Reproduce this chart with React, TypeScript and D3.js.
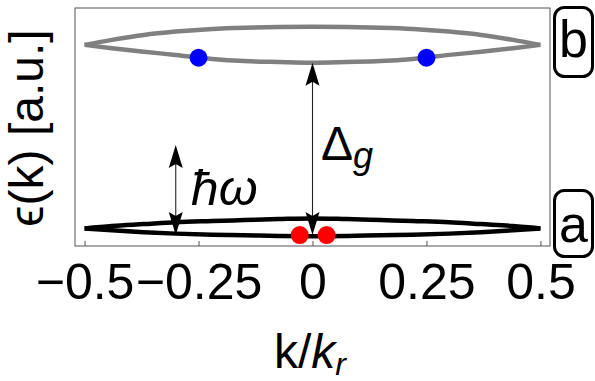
import React, { useEffect, useRef } from 'react';
import * as d3 from 'd3';

// band samples (k in units of k_r, energy in a.u.)
const kGrid = [-0.5, -0.44, -0.37, -0.3, -0.22, -0.15, -0.075, 0, 0.075, 0.15, 0.22, 0.3, 0.37, 0.44, 0.5];
const upperTop = [0.845, 0.866, 0.887, 0.901, 0.912, 0.917, 0.92, 0.921, 0.92, 0.917, 0.912, 0.901, 0.887, 0.866, 0.845];
const upperBottom = [0.845, 0.831, 0.816, 0.803, 0.786, 0.777, 0.773, 0.77, 0.773, 0.777, 0.786, 0.803, 0.816, 0.831, 0.845];
const lowerTop = [0.074, 0.084, 0.092, 0.1, 0.105, 0.109, 0.113, 0.116, 0.113, 0.109, 0.105, 0.1, 0.092, 0.084, 0.074];
const lowerBottom = [0.074, 0.066, 0.058, 0.052, 0.047, 0.045, 0.042, 0.041, 0.042, 0.045, 0.047, 0.052, 0.058, 0.066, 0.074];

const blueK = [-0.25, 0.25];
const blueE = [0.791, 0.791];
const redK = [-0.028, 0.031];
const redE = [0.046, 0.046];

// arrows: [k, from, to]
const gapArrow = [0, 0.046, 0.77];
const photonArrow = [-0.3, 0.046, 0.424];

const xTicks = [-0.5, -0.25, 0, 0.25, 0.5];
const xTickLabels = ['\u22120.5', '\u22120.25', '0', '0.25', '0.5'];

const W = 595, H = 381;
const FONT = '"Liberation Sans", Arial, Helvetica, sans-serif';

const BandChart = () => {
  const svgRef = useRef(null);

  useEffect(() => {
    const svg = d3.select(svgRef.current);
    svg.selectAll('*').remove();

    const x = d3.scaleLinear().domain([-0.521, 0.521]).range([75, 550]);
    const y = d3.scaleLinear().domain([0, 1]).range([246, 8]);

    const line = d3.line<number>()
      .x((d, i) => x(kGrid[i]))
      .y(d => y(d))
      .curve(d3.curveMonotoneX);

    // frame
    svg.append('rect')
      .attr('x', 75).attr('y', 8)
      .attr('width', 475).attr('height', 238)
      .attr('fill', 'none').attr('stroke', '#555').attr('stroke-width', 1);

    // bottom axis
    const ax = svg.append('g')
      .attr('transform', `translate(0,246)`)
      .call(d3.axisBottom(x).tickValues(xTicks).tickSizeInner(-5).tickSizeOuter(0)
        .tickFormat((d, i) => xTickLabels[i]));
    ax.select('.domain').remove();
    ax.selectAll('line').attr('stroke', '#555');
    ax.selectAll('text')
      .attr('y', 53).attr('dy', null)
      .attr('fill', '#000')
      .style('font-family', FONT).style('font-size', '50px');

    // bands
    [[upperTop, '#808080'], [upperBottom, '#808080'], [lowerTop, '#000'], [lowerBottom, '#000']]
      .forEach(([vals, col]) => {
        svg.append('path')
          .attr('d', line(vals as number[]))
          .attr('fill', 'none')
          .attr('stroke', col as string)
          .attr('stroke-width', 4.5)
          .attr('stroke-linejoin', 'miter');
      });

    // arrows
    const head = (px, py, dir) => {
      // dir -1 points up, +1 points down
      const L = 23, hw = 7, notch = 4;
      return `M${px},${py} L${px + hw},${py - dir * L} L${px},${py - dir * (L - notch)} L${px - hw},${py - dir * L} Z`;
    };
    [gapArrow, photonArrow].forEach(([k, e0, e1]) => {
      const px = x(k), yb = y(e0), yt = y(e1);
      svg.append('line')
        .attr('x1', px).attr('x2', px)
        .attr('y1', yb - 15).attr('y2', yt + 15)
        .attr('stroke', '#222').attr('stroke-width', 1.1);
      svg.append('path').attr('d', head(px, yt, -1)).attr('fill', '#000');
      svg.append('path').attr('d', head(px, yb, 1)).attr('fill', '#000');
    });

    // dots
    svg.selectAll('.blue').data(blueK).enter().append('circle')
      .attr('cx', d => x(d)).attr('cy', (d, i) => y(blueE[i]))
      .attr('r', 9).attr('fill', '#0000ff');
    svg.selectAll('.red').data(redK).enter().append('circle')
      .attr('cx', d => x(d)).attr('cy', (d, i) => y(redE[i]))
      .attr('r', 9).attr('fill', '#ff0000');

    // annotations
    svg.append('text')
      .attr('x', 191).attr('y', 205)
      .style('font-family', FONT).style('font-size', '50px').style('font-style', 'italic')
      .text('\u0127\u03c9');

    const dg = svg.append('text')
      .attr('x', 321).attr('y', 160)
      .style('font-family', FONT).style('font-size', '48px');
    dg.append('tspan').text('\u0394');
    dg.append('tspan').attr('dy', 8).style('font-size', '36px').style('font-style', 'italic').text('g');

    // x label
    const xl = svg.append('text')
      .attr('x', 274).attr('y', 368)
      .style('font-family', FONT).style('font-size', '48px');
    xl.append('tspan').text('k/');
    xl.append('tspan').style('font-style', 'italic').text('k');
    xl.append('tspan').attr('dy', 7).style('font-size', '32px').style('font-style', 'italic').text('r');

    // y label
    svg.append('text')
      .attr('transform', 'translate(43,128) rotate(-90)')
      .attr('text-anchor', 'middle')
      .style('font-family', FONT).style('font-size', '48px')
      .text('\u03f5(k) [a.u.]');

    // band tags
    const tags = [['b', 7.5, 69, 57], ['a', 190.5, 66, 242]];
    tags.forEach(([t, ty, th, base]) => {
      svg.append('rect')
        .attr('x', 554.5).attr('y', ty as number)
        .attr('width', 38).attr('height', th as number)
        .attr('rx', 10).attr('ry', 10)
        .attr('fill', 'none').attr('stroke', '#000').attr('stroke-width', 3);
      svg.append('text')
        .attr('x', 573.5).attr('y', base as number)
        .attr('text-anchor', 'middle')
        .style('font-family', FONT).style('font-size', '52px')
        .text(t as string);
    });
  }, []);

  return <svg ref={svgRef} width={W} height={H} style={{ position: 'absolute', left: 0, top: 0, background: '#fff' }} />;
};

export default function App() {
  return <BandChart />;
}
